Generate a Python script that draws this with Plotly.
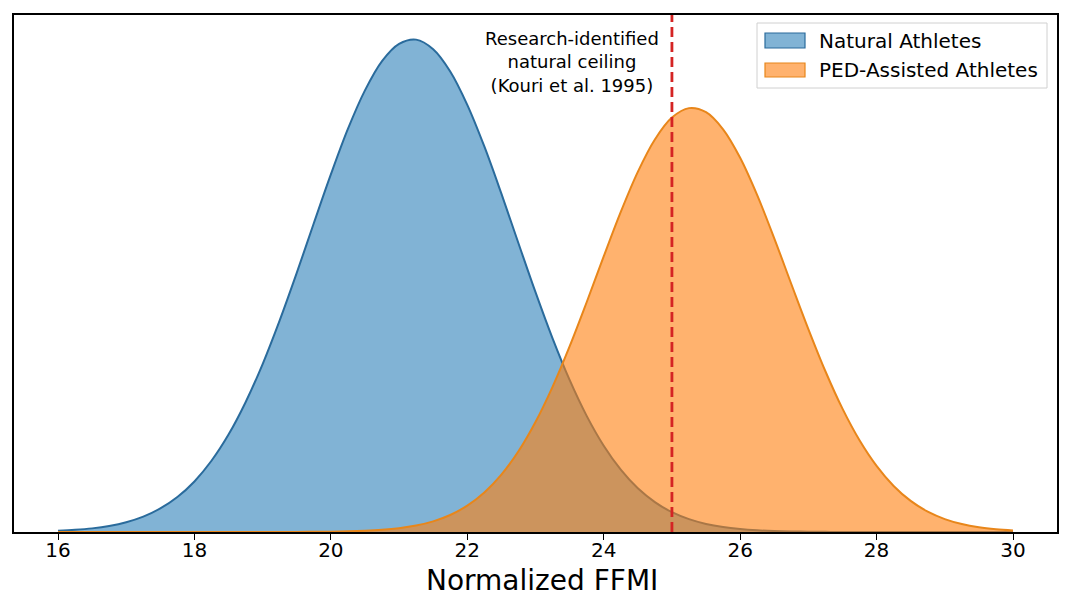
import plotly.graph_objects as go

# ---- data ----
natural_x = [16, 16.25, 16.5, 16.75, 17, 17.25, 17.5, 17.75, 18, 18.25, 18.5, 18.75, 19, 19.25,
             19.5, 19.75, 20, 20.25, 20.5, 20.75, 21, 21.25, 21.5, 21.75, 22, 22.25, 22.5, 22.75,
             23, 23.25, 23.5, 23.75, 24, 24.25, 24.5, 24.75, 25, 25.25, 25.5, 25.75, 26, 26.25,
             26.5, 26.75, 27, 27.25, 27.5, 28, 28.5, 29, 29.5, 30]
natural_y = [0.00065, 0.00115, 0.00196, 0.00326, 0.00528, 0.0083, 0.0127, 0.01888, 0.0273,
             0.03846, 0.0526, 0.07008, 0.0907, 0.11426, 0.1399, 0.16672, 0.1931, 0.21766, 0.2385,
             0.2543, 0.2636, 0.2659, 0.2607, 0.2487, 0.2307, 0.2082, 0.1827, 0.15596, 0.1295,
             0.10455, 0.0821, 0.06271, 0.0466, 0.03366, 0.0236, 0.01617, 0.0107, 0.00695, 0.00437,
             0.00267, 0.00159, 0.00092, 0.00052, 0.00028, 0.00015, 0.00008, 0.00004, 0.00001,
             0.0, 0.0, 0.0, 0.0]

ped_x = [16, 17, 18, 18.5, 19, 19.5, 19.75, 20, 20.25, 20.5, 20.75, 21, 21.25, 21.5, 21.75, 22,
         22.25, 22.5, 22.75, 23, 23.25, 23.5, 23.75, 24, 24.25, 24.5, 24.75, 25, 25.25, 25.5,
         25.75, 26, 26.25, 26.5, 26.75, 27, 27.25, 27.5, 27.75, 28, 28.25, 28.5, 28.75, 29,
         29.25, 29.5, 29.75, 30]
ped_y = [0.0, 0.0, 0.0, 0.000002, 0.000009, 0.000043, 0.000089, 0.000177, 0.00034, 0.00064,
         0.00116, 0.00205, 0.00349, 0.00575, 0.00919, 0.01424, 0.02135, 0.0310, 0.04359, 0.0594,
         0.07839, 0.1002, 0.12407, 0.1488, 0.17286, 0.1945, 0.21199, 0.2238, 0.2289, 0.2267,
         0.21747, 0.2021, 0.18191, 0.1586, 0.13394, 0.1096, 0.08681, 0.0666, 0.04953, 0.0357,
         0.02487, 0.0168, 0.01099, 0.00697, 0.00428, 0.00254, 0.00147, 0.00082]

ceiling_x = 25
x_ticks = [16, 18, 20, 22, 24, 26, 28, 30]
series_names = ["Natural Athletes", "PED-Assisted Athletes"]
x_label = "Normalized FFMI"
note_text = "Research-identified<br>natural ceiling<br>(Kouri et al. 1995)"

# ---- styling ----
FONT = "DejaVu Sans"
nat_fill = "rgba(31,119,180,0.56)"
nat_line = "#2a6b9c"
ped_fill = "rgba(255,127,14,0.6)"
ped_line = "#e8861a"

W, H = 1068, 601
L, R, T, B = 14, 1057, 15, 532  # plot area in px


def px(xp):
    return (xp - L) / (R - L)


def py(yp):
    return (B - yp) / (B - T)


fig = go.Figure()
fig.add_trace(go.Scatter(x=natural_x, y=natural_y, mode="lines", fill="tozeroy",
                         fillcolor=nat_fill, line=dict(color=nat_line, width=2, shape="spline"),
                         name=series_names[0], showlegend=False))
fig.add_trace(go.Scatter(x=ped_x, y=ped_y, mode="lines", fill="tozeroy",
                         fillcolor=ped_fill, line=dict(color=ped_line, width=2, shape="spline"),
                         name=series_names[1], showlegend=False))

ymax = max(max(natural_y), max(ped_y)) * 1.05

shapes = [
    dict(type="line", xref="x", yref="paper", x0=ceiling_x, x1=ceiling_x, y0=0, y1=1,
         line=dict(color="#d42424", width=2.8, dash="10px,5px")),
    # legend box
    dict(type="rect", xref="paper", yref="paper", x0=px(757), x1=px(1047), y0=py(88), y1=py(23),
         line=dict(color="#d0d0d0", width=1), fillcolor="rgba(255,255,255,0.85)"),
    dict(type="rect", xref="paper", yref="paper", x0=px(765), x1=px(805), y0=py(48), y1=py(33),
         line=dict(color=nat_line, width=1.2), fillcolor=nat_fill),
    dict(type="rect", xref="paper", yref="paper", x0=px(765), x1=px(805), y0=py(77), y1=py(63),
         line=dict(color=ped_line, width=1.2), fillcolor=ped_fill),
]

annotations = [
    dict(x=ceiling_x - 0.16, xref="x", y=py(26), yref="paper", xanchor="right", yanchor="top",
         text=note_text, showarrow=False, align="center",
         font=dict(family=FONT, size=18, color="black")),
    dict(x=px(817), xref="paper", y=py(41), yref="paper", xanchor="left", yanchor="middle",
         text=series_names[0], showarrow=False, font=dict(family=FONT, size=20, color="black")),
    dict(x=px(817), xref="paper", y=py(70), yref="paper", xanchor="left", yanchor="middle",
         text=series_names[1], showarrow=False, font=dict(family=FONT, size=20, color="black")),
    # x-axis title placed explicitly
    dict(x=px(542), xref="paper", y=py(580), yref="paper", xanchor="center", yanchor="middle",
         text=x_label, showarrow=False, font=dict(family=FONT, size=28, color="black")),
]

fig.update_layout(
    width=W, height=H,
    margin=dict(l=L, r=W - R, t=T, b=H - B, pad=0),
    paper_bgcolor="white", plot_bgcolor="white",
    font=dict(family=FONT, color="black"),
    shapes=shapes, annotations=annotations, showlegend=False,
    xaxis=dict(range=[15.355, 30.645], tickvals=x_ticks, ticktext=[str(v) for v in x_ticks],
               ticks="outside", ticklen=6, tickwidth=1.2, tickcolor="black",
               ticklabelstandoff=-7,
               showline=True, linecolor="black", linewidth=1.5, mirror=True,
               showgrid=False, zeroline=False, tickfont=dict(size=20, family=FONT),
               automargin=False),
    yaxis=dict(range=[0, ymax], showticklabels=False, ticks="", showgrid=False, zeroline=False,
               showline=True, linecolor="black", linewidth=1.5, mirror=True, automargin=False),
)

fig.write_html("out.html")
